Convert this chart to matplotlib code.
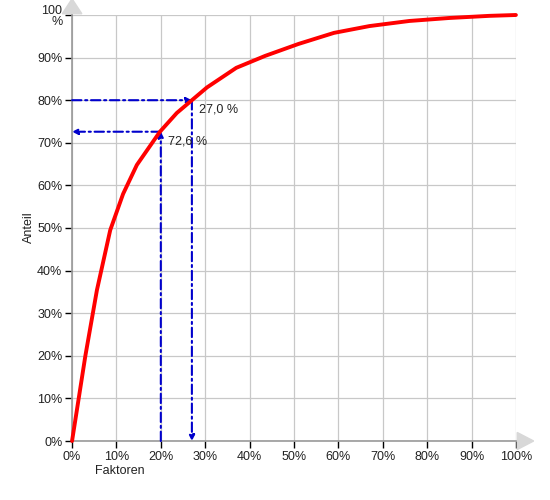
import matplotlib
matplotlib.use("Agg")
import matplotlib.pyplot as plt
from matplotlib.patches import Polygon

# Lorenz-/Pareto-Kurve
faktoren = [0, 3, 5.6, 8.6, 11.5, 14.6, 19.8, 23.6, 27, 30.4, 37, 43.5, 51, 59, 67, 76, 85, 94, 100]
anteil = [0, 20, 35.4, 49.5, 58, 64.8, 72.6, 77, 80, 83, 87.6, 90.4, 93.2, 95.8, 97.4, 98.6, 99.3, 99.8, 100]

# Ablesungen
x_fix, y_read = 20, 72.6
y_fix, x_read = 80, 27.0

x_ticks = list(range(0, 101, 10))
y_ticks = list(range(0, 101, 10))
x_labels = [f"{v}%" for v in x_ticks]
y_labels = [f"{v}%" for v in y_ticks[:-1]] + ["100\n%"]

plt.rcParams['font.family'] = ['Liberation Sans', 'DejaVu Sans']

fig = plt.figure(figsize=(5.5, 5.0), dpi=100)
ax = fig.add_axes([0.131, 0.118, 0.807, 0.852])

ax.plot(faktoren, anteil, color='#ff0000', lw=2.8, solid_capstyle='round', zorder=5, clip_on=False)

blue = '#0000cc'
arr = dict(arrowstyle='-|>', color=blue, lw=1.5, ls=(0, (4.5, 1.8, 1, 1.8)), mutation_scale=8,
           shrinkA=0, shrinkB=0)
# 20 % -> 72,6 %
ax.annotate('', xy=(x_fix, y_read), xytext=(x_fix, 0), arrowprops=arr, zorder=4)
ax.annotate('', xy=(0, y_read), xytext=(x_fix, y_read), arrowprops=arr, zorder=4)
# 80 % -> 27,0 %
ax.annotate('', xy=(x_read, y_fix), xytext=(0, y_fix), arrowprops=arr, zorder=4)
ax.annotate('', xy=(x_read, 0), xytext=(x_read, y_fix), arrowprops=arr, zorder=4)

ax.text(x_fix + 1.7, y_read - 2.3, f"{y_read:.1f} %".replace('.', ','), fontsize=9,
        va='center', ha='left', color='#222222', zorder=6)
ax.text(x_read + 1.7, y_fix - 2.3, f"{x_read:.1f} %".replace('.', ','), fontsize=9,
        va='center', ha='left', color='#222222', zorder=6)

ax.set_xlim(0, 100)
ax.set_ylim(0, 100)
ax.set_xticks(x_ticks)
ax.set_xticklabels(x_labels)
ax.set_yticks(y_ticks)
ax.set_yticklabels(y_labels, linespacing=0.9)
ax.tick_params(axis='both', labelsize=9, colors='black', length=5, width=1, direction='out',
               labelcolor='#222222', pad=2)
ax.grid(True, color='#c8c8c8', lw=0.9)
ax.set_axisbelow(True)

for side in ['top', 'right']:
    ax.spines[side].set_visible(False)
for side in ['left', 'bottom']:
    ax.spines[side].set_color('#999999')
    ax.spines[side].set_linewidth(1.2)

# graue Pfeilspitzen an den Achsen
tri_y = Polygon([[-2.2, 100.3], [2.2, 100.3], [0, 103.8]], closed=True, color='#d8d8d8',
                clip_on=False, zorder=1)
tri_x = Polygon([[100.3, -2.0], [100.3, 2.0], [104.0, 0]], closed=True, color='#d8d8d8',
                clip_on=False, zorder=1)
ax.add_patch(tri_y)
ax.add_patch(tri_x)

fig.text(0.218, 0.058, "Faktoren", fontsize=9, ha='center', va='center', color='#222222')
fig.text(0.052, 0.545, "Anteil", fontsize=9, ha='center', va='center', rotation=90, color='#222222')

fig.savefig("out.png", dpi=100)
